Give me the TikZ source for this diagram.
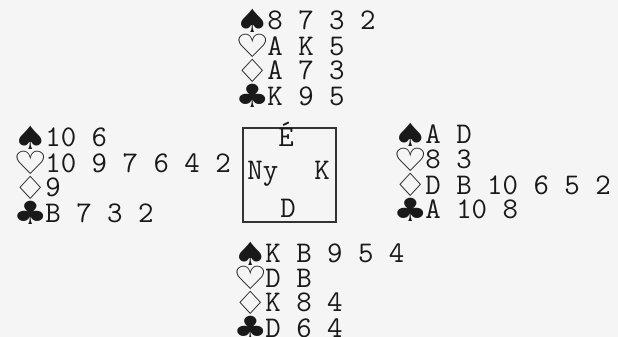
\documentclass[tikz,border=0pt]{standalone}
\usepackage{fontspec}
\usepackage{graphicx}
\newfontfamily\suitfont{DejaVu Sans}
\usetikzlibrary{positioning}
\newcommand{\szin}[1]{\makebox[16pt][l]{\raisebox{-1.2pt}{\suitfont\fontsize{16}{16}\selectfont\scalebox{1.2}[1]{#1}}}}

\begin{document}
\begin{tikzpicture}[
		x=0.5pt, y=-0.5pt,
		% sorok es az asztal
		sor/.style={anchor=base west, inner sep=0pt, text=black!90, font=\ttfamily\fontsize{15}{15}\selectfont},
		egtaj/.style={inner sep=0pt, text=black!90, font=\ttfamily\fontsize{15}{15}\selectfont},
		asztal/.style={draw=black!80, line width=1pt, minimum width=46.5pt, minimum height=47pt, inner sep=0pt},
		]
		
		\fill[black!4] (0,0) rectangle (618,337);
		\useasboundingbox (0,0) rectangle (618,337);
		
		% Eszak
		\node[sor] (eszakPikk) at (235,30) {\szin{♠}8 7 3 2};
		\node[sor] (eszakKor) at (235,55) {\szin{♡}A K 5};
		\node[sor] (eszakKaro) at (235,80) {\szin{♢}A 7 3};
		\node[sor] (eszakTreff) at (235,105) {\szin{♣}K 9 5};
		
		% Nyugat
		\node[sor] (nyugatPikk) at (13,147) {\szin{♠}10 6};
		\node[sor] (nyugatKor) at (13,172) {\szin{♡}10 9 7 6 4 2};
		\node[sor] (nyugatKaro) at (13,197) {\szin{♢}9};
		\node[sor] (nyugatTreff) at (13,222) {\szin{♣}B 7 3 2};
		
		% Kelet
		\node[sor] (keletPikk) at (393,144) {\szin{♠}A D};
		\node[sor] (keletKor) at (393,169) {\szin{♡}8 3};
		\node[sor] (keletKaro) at (393,194) {\szin{♢}D B 10 6 5 2};
		\node[sor] (keletTreff) at (393,219) {\szin{♣}A 10 8};
		
		% Del
		\node[sor] (delPikk) at (233,263) {\szin{♠}K B 9 5 4};
		\node[sor] (delKor) at (233,287) {\szin{♡}D B};
		\node[sor] (delKaro) at (233,312) {\szin{♢}K 8 4};
		\node[sor] (delTreff) at (233,337) {\szin{♣}D 6 4};
		
		% asztal
		\node[asztal] (asztal) at (289.5,175) {};
		\node[egtaj, anchor=base] (egtajE) at (286,147) {É};
		\node[egtaj, anchor=base west] (egtajNy) at (247,179) {Ny};
		\node[egtaj, anchor=base west] (egtajK) at (314,179) {K};
		\node[egtaj, anchor=base] (egtajD) at (288,218) {D};
		
	\end{tikzpicture}
\end{document}
